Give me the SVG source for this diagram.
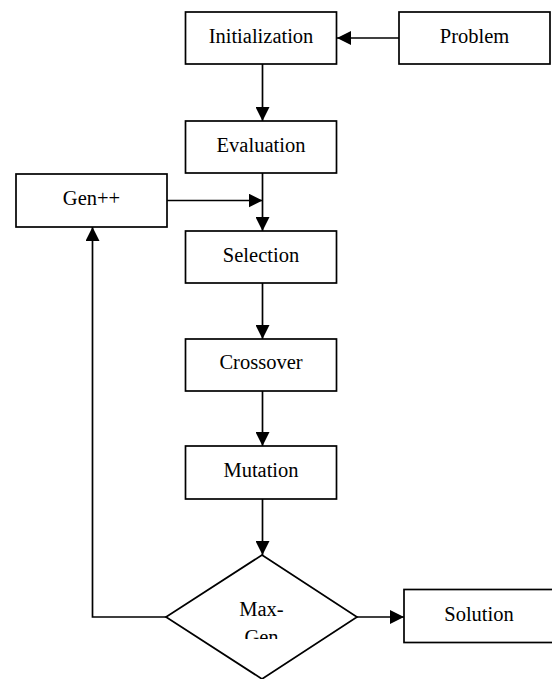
<svg xmlns="http://www.w3.org/2000/svg" width="552" height="679" viewBox="0 0 552 679">
<style>
.box{fill:#fff;stroke:#000;stroke-width:1.7}
.lbl{font-family:"Liberation Serif","Times New Roman",serif;font-size:20.5px;fill:#000;text-anchor:middle}
.ln{fill:none;stroke:#000;stroke-width:1.7}
</style>
<defs>
<marker id="ah" viewBox="0 0 14 14" refX="14" refY="7" markerWidth="14" markerHeight="14" markerUnits="userSpaceOnUse" orient="auto">
<path d="M0,0 L14,7 L0,14 z" fill="#000"/>
</marker>
<clipPath id="dclip"><rect x="180" y="560" width="170" height="79"/></clipPath>
</defs>
<rect width="552" height="679" fill="#fff"/>
<g id="connectors">
<line class="ln" x1="399" y1="38" x2="337" y2="38" marker-end="url(#ah)"/>
<line class="ln" x1="262.5" y1="64" x2="262.5" y2="121" marker-end="url(#ah)"/>
<line class="ln" x1="262.5" y1="173" x2="262.5" y2="231" marker-end="url(#ah)"/>
<line class="ln" x1="167" y1="200.5" x2="262.5" y2="200.5" marker-end="url(#ah)"/>
<line class="ln" x1="262.5" y1="283" x2="262.5" y2="339" marker-end="url(#ah)"/>
<line class="ln" x1="262.5" y1="391" x2="262.5" y2="446" marker-end="url(#ah)"/>
<line class="ln" x1="262.5" y1="499" x2="262.5" y2="555" marker-end="url(#ah)"/>
<polyline class="ln" points="166,617 92.5,617 92.5,227" marker-end="url(#ah)"/>
<line class="ln" x1="357" y1="617" x2="404" y2="617" marker-end="url(#ah)"/>
</g>
<g id="problem"><rect class="box" x="399" y="12" width="151" height="52"/><text class="lbl" x="474.5" y="43">Problem</text></g>
<g id="initialization"><rect class="box" x="185.5" y="12" width="151" height="52"/><text class="lbl" x="261" y="43">Initialization</text></g>
<g id="evaluation"><rect class="box" x="185.5" y="121" width="151" height="52"/><text class="lbl" x="261" y="152">Evaluation</text></g>
<g id="genpp"><rect class="box" x="16" y="174" width="151" height="53"/><text class="lbl" x="91.5" y="205">Gen++</text></g>
<g id="selection"><rect class="box" x="185.5" y="231" width="151" height="52"/><text class="lbl" x="261" y="262">Selection</text></g>
<g id="crossover"><rect class="box" x="185.5" y="339" width="151" height="52"/><text class="lbl" x="261" y="369">Crossover</text></g>
<g id="mutation"><rect class="box" x="185.5" y="446" width="151" height="53"/><text class="lbl" x="261" y="477">Mutation</text></g>
<g id="maxgen"><polygon class="box" points="262,555 357,617 262,679 166,617"/>
<g clip-path="url(#dclip)"><text class="lbl" x="261.5" y="616">Max-</text><text class="lbl" x="261.5" y="644">Gen</text></g></g>
<g id="solution"><rect class="box" x="404" y="589.5" width="151" height="53"/><text class="lbl" x="479" y="621">Solution</text></g>
</svg>
